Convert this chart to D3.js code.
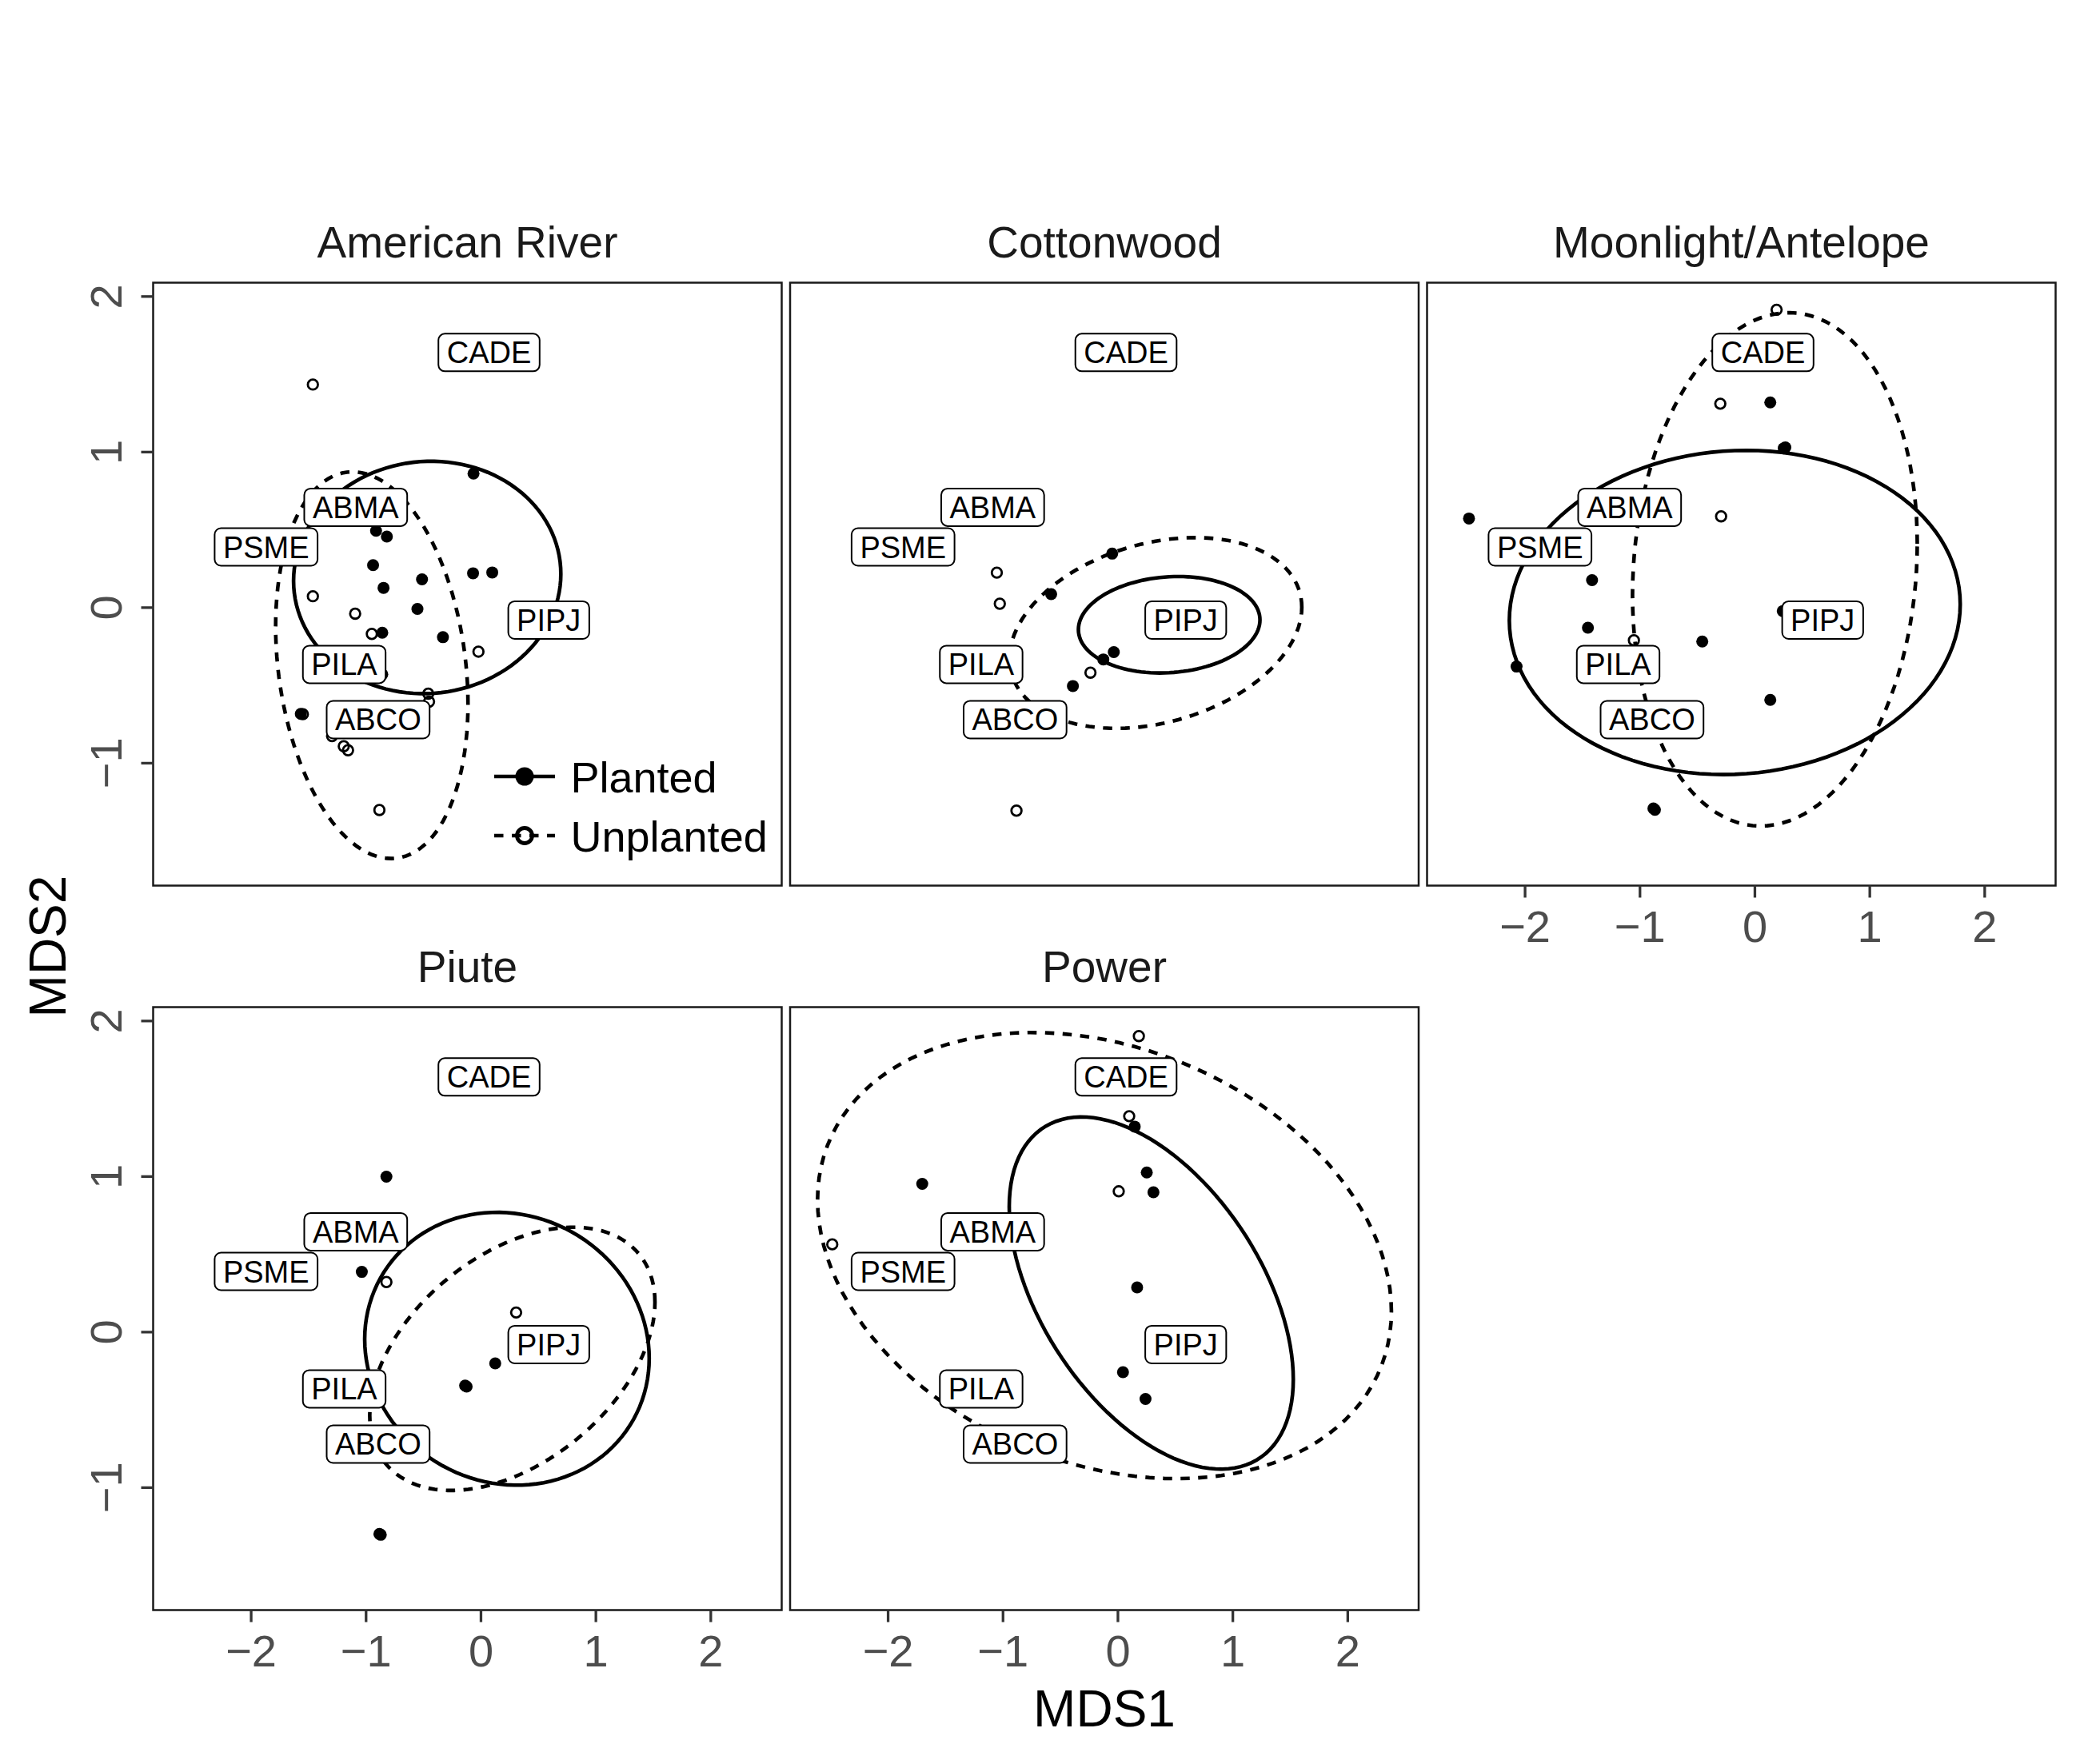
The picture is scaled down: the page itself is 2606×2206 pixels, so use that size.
<!DOCTYPE html>
<html>
<head>
<meta charset="utf-8">
<script src="https://cdn.jsdelivr.net/npm/d3@7"></script>
<style>
  html, body { margin: 0; padding: 0; background: #fff; }
  svg { display: block; font-family: "Liberation Sans", Arial, Helvetica, sans-serif; }
</style>
</head>
<body>
<div id="chart"></div>
<script>
/* Facet names */
const sites = ["American River", "Cottonwood", "Moonlight/Antelope", "Piute", "Power"];

/* Species scores (same in every facet) */
const speciesNames = ["CADE", "ABMA", "PSME", "PIPJ", "PILA", "ABCO"];
const speciesX = [0.07, -1.09, -1.87, 0.59, -1.19, -0.895];
const speciesY = [1.64, 0.645, 0.39, -0.08, -0.365, -0.72];

/* Site scores, one array per facet and treatment: [MDS1, MDS2] */
const americanPlanted = [[-0.065, 0.862], [-0.913, 0.494], [-0.819, 0.457], [-0.939, 0.273], [-0.848, 0.127],
  [-0.513, 0.182], [-0.069, 0.221], [0.098, 0.226], [-0.553, -0.008], [-0.859, -0.161], [-0.331, -0.19],
  [-0.859, -0.429], [-1.568, -0.683]];
const americanUnplanted = [[-1.463, 1.434], [-1.463, 0.073], [-1.095, -0.039], [-0.95, -0.169], [-0.022, -0.283],
  [-0.459, -0.553], [-0.452, -0.605], [-1.296, -0.826], [-1.194, -0.891], [-1.157, -0.917], [-0.884, -1.301],
  [-1.55, -0.685]];
const cottonwoodPlanted = [[-0.05, 0.347], [-0.581, 0.087], [-0.036, -0.286], [-0.127, -0.333], [-0.392, -0.504]];
const cottonwoodUnplanted = [[-1.054, 0.225], [-1.028, 0.025], [-0.239, -0.418], [-0.883, -1.305]];
const moonlightPlanted = [[0.134, 1.319], [0.251, 1.024], [0.265, 1.03], [-2.488, 0.573], [-1.417, 0.177],
  [-1.453, -0.129], [-2.074, -0.379], [-0.458, -0.218], [0.134, -0.593], [-0.883, -1.291], [-0.87, -1.3],
  [0.243, -0.022]];
const moonlightUnplanted = [[0.189, 1.915], [-0.301, 1.311], [-0.294, 0.587], [-1.053, -0.21]];
const piutePlanted = [[-0.823, 0.999], [-1.037, 0.387], [0.124, -0.201], [-0.138, -0.344], [-0.125, -0.35],
  [-0.884, -1.297], [-0.872, -1.303]];
const piuteUnplanted = [[-0.823, 0.322], [0.306, 0.126]];
const powerPlanted = [[0.146, 1.321], [0.251, 1.026], [0.309, 0.899], [-1.703, 0.953], [0.167, 0.287],
  [0.044, -0.258], [0.24, -0.43]];
const powerUnplanted = [[0.182, 1.903], [0.098, 1.388], [0.007, 0.905], [-2.486, 0.564]];

/* Ellipses per facet: [centre x, centre y, sd x, sd y, correlation] */
const plantedEllipses = [
  [-0.468, 0.194, 1.163, 0.747, 0.03],
  [0.446, -0.11, 0.79, 0.31, 0.1],
  [-0.175, -0.031, 1.962, 1.042, 0.05],
  [0.226, -0.107, 1.238, 0.877, -0.07],
  [0.29, 0.251, 1.236, 1.132, -0.49]
];
const unplantedEllipses = [
  [-0.95, -0.37, 0.837, 1.243, -0.2],
  [0.328, -0.163, 1.272, 0.613, 0.27],
  [0.174, 0.246, 1.239, 1.65, 0.1],
  [0.273, -0.172, 1.241, 0.846, 0.43],
  [-0.117, 0.492, 2.497, 1.434, -0.25]
];

/* Tick values */
const xTicks = [-2, -1, 0, 1, 2];
const yTicks = [-1, 0, 1, 2];
const treatments = ["Planted", "Unplanted"];

const plantedBySite = [americanPlanted, cottonwoodPlanted, moonlightPlanted, piutePlanted, powerPlanted];
const unplantedBySite = [americanUnplanted, cottonwoodUnplanted, moonlightUnplanted, piuteUnplanted, powerUnplanted];

/* Layout */
const width = 2606, height = 2206;
const panelW = 786, panelH = 754;
const colLeft = [191.5, 988, 1784.5];
const rowTop = [353.5, 1259.5];
const lineW = 4.6;
const fmt = d => d < 0 ? "\u2212" + Math.abs(d) : String(d);

const svg = d3.select("#chart")
  .append("svg")
  .attr("width", width)
  .attr("height", height)
  .attr("viewBox", [0, 0, width, height]);

svg.append("rect").attr("width", width).attr("height", height).attr("fill", "white");

const x = d3.scaleLinear().domain([-2.853, 2.617]).range([0, panelW]);
const y = d3.scaleLinear().domain([-1.787, 2.089]).range([panelH, 0]);

/* Ellipse outline from centre, spread and correlation (Cholesky form) */
const ellipsePath = e => {
  const [cx, cy, sx, sy, r] = e;
  const pts = d3.range(120).map(i => {
    const t = (i / 120) * 2 * Math.PI;
    return [cx + sx * Math.cos(t), cy + r * sy * Math.cos(t) + sy * Math.sqrt(1 - r * r) * Math.sin(t)];
  });
  return d3.line().x(d => x(d[0])).y(d => y(d[1])).curve(d3.curveLinearClosed)(pts);
};

sites.forEach((site, i) => {
  const col = i % 3, row = Math.floor(i / 3);
  const g = svg.append("g").attr("transform", `translate(${colLeft[col]},${rowTop[row]})`);

  /* Strip title */
  g.append("text")
    .attr("x", panelW / 2)
    .attr("y", -31.8)
    .attr("text-anchor", "middle")
    .attr("font-size", "55px")
    .attr("fill", "#1a1a1a")
    .text(site);

  const clipId = `clip${i}`;
  g.append("clipPath").attr("id", clipId)
    .append("rect").attr("width", panelW).attr("height", panelH);

  const plot = g.append("g").attr("clip-path", `url(#${clipId})`);

  /* Points */
  plot.append("g")
    .selectAll("circle")
    .data(plantedBySite[i])
    .join("circle")
      .attr("cx", d => x(d[0]))
      .attr("cy", d => y(d[1]))
      .attr("r", 7.5)
      .attr("fill", "black");

  plot.append("g")
    .selectAll("circle")
    .data(unplantedBySite[i])
    .join("circle")
      .attr("cx", d => x(d[0]))
      .attr("cy", d => y(d[1]))
      .attr("r", 6.3)
      .attr("fill", "none")
      .attr("stroke", "black")
      .attr("stroke-width", 2.8);

  /* Ellipses */
  plot.append("path")
    .attr("d", ellipsePath(plantedEllipses[i]))
    .attr("fill", "none")
    .attr("stroke", "black")
    .attr("stroke-width", lineW);

  plot.append("path")
    .attr("d", ellipsePath(unplantedEllipses[i]))
    .attr("fill", "none")
    .attr("stroke", "black")
    .attr("stroke-width", lineW)
    .attr("stroke-dasharray", "11.5,10.5");

  /* Species labels */
  const labels = plot.append("g")
    .selectAll("g")
    .data(speciesNames)
    .join("g")
      .attr("transform", (d, j) => `translate(${x(speciesX[j])},${y(speciesY[j])})`);

  labels.append("rect")
    .attr("fill", "white")
    .attr("stroke", "black")
    .attr("stroke-width", 2)
    .attr("rx", 8)
    .attr("ry", 8);

  const texts = labels.append("text")
    .attr("text-anchor", "middle")
    .attr("y", 13.5)
    .attr("font-size", "38px")
    .attr("fill", "black")
    .text(d => d);

  texts.each(function () {
    const w = this.getComputedTextLength();
    d3.select(this.parentNode).select("rect")
      .attr("x", -w / 2 - 10.5)
      .attr("y", -23.5)
      .attr("width", w + 21)
      .attr("height", 47);
  });

  /* Panel border */
  g.append("rect")
    .attr("width", panelW)
    .attr("height", panelH)
    .attr("fill", "none")
    .attr("stroke", "#1a1a1a")
    .attr("stroke-width", 2.5);

  /* x axis on bottom row and on the facet with nothing beneath it */
  if (row === 1 || i === 2) {
    g.append("g")
      .selectAll("line")
      .data(xTicks)
      .join("line")
        .attr("x1", d => x(d)).attr("x2", d => x(d))
        .attr("y1", panelH).attr("y2", panelH + 15)
        .attr("stroke", "#333333")
        .attr("stroke-width", 3.3);
    g.append("g")
      .selectAll("text")
      .data(xTicks)
      .join("text")
        .attr("x", d => x(d))
        .attr("y", panelH + 70)
        .attr("text-anchor", "middle")
        .attr("font-size", "56px")
        .attr("fill", "#4D4D4D")
        .text(fmt);
  }

  /* y axis on first column */
  if (col === 0) {
    g.append("g")
      .selectAll("line")
      .data(yTicks)
      .join("line")
        .attr("x1", -15).attr("x2", 0)
        .attr("y1", d => y(d)).attr("y2", d => y(d))
        .attr("stroke", "#333333")
        .attr("stroke-width", 3.3);
    g.append("g")
      .selectAll("text")
      .data(yTicks)
      .join("text")
        .attr("transform", d => `translate(-39.8,${y(d)}) rotate(-90)`)
        .attr("text-anchor", "middle")
        .attr("font-size", "56px")
        .attr("fill", "#4D4D4D")
        .text(fmt);
  }

  /* Legend inside the first facet */
  if (i === 0) {
    const leg = g.append("g");
    const keyX1 = 618 - colLeft[0], keyX2 = 694 - colLeft[0];
    const rowsY = [971 - rowTop[0], 1045 - rowTop[0]];
    treatments.forEach((t, k) => {
      leg.append("line")
        .attr("x1", keyX1).attr("x2", keyX2)
        .attr("y1", rowsY[k]).attr("y2", rowsY[k])
        .attr("stroke", "black")
        .attr("stroke-width", lineW)
        .attr("stroke-dasharray", k === 1 ? "11.5,10.5" : null);
      leg.append("circle")
        .attr("cx", (keyX1 + keyX2) / 2)
        .attr("cy", rowsY[k])
        .attr("r", k === 0 ? 11.5 : 9.5)
        .attr("fill", k === 0 ? "black" : "none")
        .attr("stroke", "black")
        .attr("stroke-width", k === 0 ? 0 : 4.8);
      leg.append("text")
        .attr("x", 713.5 - colLeft[0])
        .attr("y", rowsY[k] + 19.5)
        .attr("font-size", "54px")
        .attr("fill", "black")
        .text(t);
    });
  }
});

/* Axis titles */
svg.append("text")
  .attr("x", (colLeft[0] + colLeft[2] + panelW) / 2)
  .attr("y", 2159)
  .attr("text-anchor", "middle")
  .attr("font-size", "64px")
  .attr("fill", "black")
  .text("MDS1");

svg.append("text")
  .attr("transform", `translate(81.7,${(rowTop[0] + rowTop[1] + panelH) / 2}) rotate(-90)`)
  .attr("text-anchor", "middle")
  .attr("font-size", "64px")
  .attr("fill", "black")
  .text("MDS2");
</script>
</body>
</html>
